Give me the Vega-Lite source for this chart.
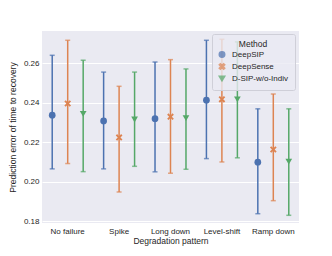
{
  "$schema": "https://vega.github.io/schema/vega-lite/v6.json",
  "autosize": "none",
  "width": 257,
  "height": 192,
  "padding": {"left": 42, "top": 31, "right": 33, "bottom": 33},
  "background": "white",
  "config": {
    "view": {"fill": "#eaeaf2", "stroke": null},
    "font": "Liberation Sans",
    "axis": {"labelColor": "#262626", "titleColor": "#262626", "titleFontWeight": "normal"}
  },
  "data": {"values": [
    {"pattern": "No failure", "method": "DeepSIP", "mean": 0.2336, "lo": 0.2064, "hi": 0.2639},
    {"pattern": "No failure", "method": "DeepSense", "mean": 0.2395, "lo": 0.2091, "hi": 0.2715},
    {"pattern": "No failure", "method": "D-SIP-w/o-Indiv", "mean": 0.2342, "lo": 0.2050, "hi": 0.2614},
    {"pattern": "Spike", "method": "DeepSIP", "mean": 0.2307, "lo": 0.2064, "hi": 0.2554},
    {"pattern": "Spike", "method": "DeepSense", "mean": 0.2223, "lo": 0.1947, "hi": 0.2482},
    {"pattern": "Spike", "method": "D-SIP-w/o-Indiv", "mean": 0.2314, "lo": 0.2077, "hi": 0.2554},
    {"pattern": "Long down", "method": "DeepSIP", "mean": 0.2318, "lo": 0.2049, "hi": 0.2605},
    {"pattern": "Long down", "method": "DeepSense", "mean": 0.2328, "lo": 0.2042, "hi": 0.2617},
    {"pattern": "Long down", "method": "D-SIP-w/o-Indiv", "mean": 0.2321, "lo": 0.2062, "hi": 0.2570},
    {"pattern": "Level-shift", "method": "DeepSIP", "mean": 0.2412, "lo": 0.2116, "hi": 0.2715},
    {"pattern": "Level-shift", "method": "DeepSense", "mean": 0.2416, "lo": 0.2099, "hi": 0.2720},
    {"pattern": "Level-shift", "method": "D-SIP-w/o-Indiv", "mean": 0.2416, "lo": 0.2120, "hi": 0.2707},
    {"pattern": "Ramp down", "method": "DeepSIP", "mean": 0.2098, "lo": 0.1837, "hi": 0.2368},
    {"pattern": "Ramp down", "method": "DeepSense", "mean": 0.2162, "lo": 0.1903, "hi": 0.2443},
    {"pattern": "Ramp down", "method": "D-SIP-w/o-Indiv", "mean": 0.2101, "lo": 0.1829, "hi": 0.2368}
  ]},
  "encoding": {
    "x": {
      "field": "pattern", "type": "nominal",
      "sort": ["No failure", "Spike", "Long down", "Level-shift", "Ramp down"],
      "scale": {"paddingInner": 0, "paddingOuter": 0},
      "axis": {"title": "Degradation pattern", "labelAngle": 0, "labelFontSize": 8, "titleFontSize": 8.5, "ticks": false, "domain": false, "grid": false, "labelPadding": 4, "titlePadding": 1}
    },
    "xOffset": {
      "field": "method", "type": "nominal",
      "scale": {"type": "point", "padding": 0.66, "domain": ["DeepSIP", "DeepSense", "D-SIP-w/o-Indiv"]}
    },
    "color": {
      "field": "method", "type": "nominal",
      "scale": {"domain": ["DeepSIP", "DeepSense", "D-SIP-w/o-Indiv"], "range": ["#4c72b0", "#dd8452", "#55a868"]},
      "legend": {
        "title": "Method", "orient": "none", "legendX": 170, "legendY": 3,
        "titleFontSize": 8.5, "titleFontWeight": "normal", "titleAnchor": "middle", "titleColor": "#262626", "titlePadding": 2,
        "labelFontSize": 8, "labelFontWeight": "normal", "labelColor": "#262626", "symbolSize": 30, "rowPadding": 0, "labelOffset": 6,
        "padding": 6, "fillColor": "rgba(234,234,242,0.8)", "strokeColor": "#cfcfd8", "cornerRadius": 2
      }
    }
  },
  "layer": [
    {
      "mark": {"type": "rule", "strokeWidth": 1.5},
      "encoding": {
        "y": {"field": "lo", "type": "quantitative",
          "scale": {"domain": [0.179, 0.2762], "nice": false, "zero": false},
          "axis": {"title": "Prediction error of time to recovery", "values": [0.18, 0.20, 0.22, 0.24, 0.26], "format": ".2f", "labelFontSize": 8, "titleFontSize": 8.5, "ticks": false, "domain": false, "gridColor": "white", "gridWidth": 1, "labelPadding": 3, "titlePadding": 6}},
        "y2": {"field": "hi"}
      }
    },
    {
      "mark": {"type": "tick", "orient": "horizontal", "size": 5, "thickness": 1.5},
      "encoding": {"y": {"field": "lo", "type": "quantitative"}}
    },
    {
      "mark": {"type": "tick", "orient": "horizontal", "size": 5, "thickness": 1.5},
      "encoding": {"y": {"field": "hi", "type": "quantitative"}}
    },
    {
      "mark": {"type": "point", "filled": true, "opacity": 1, "size": 45},
      "encoding": {
        "y": {"field": "mean", "type": "quantitative"},
        "shape": {
          "field": "method", "type": "nominal",
          "scale": {"domain": ["DeepSIP", "DeepSense", "D-SIP-w/o-Indiv"], "range": ["circle", "M-1,-0.6L-0.6,-1L0,-0.4L0.6,-1L1,-0.6L0.4,0L1,0.6L0.6,1L0,0.4L-0.6,1L-1,0.6L-0.4,0Z", "triangle-down"]},
          "legend": {"title": "Method"}
        }
      }
    }
  ]
}
